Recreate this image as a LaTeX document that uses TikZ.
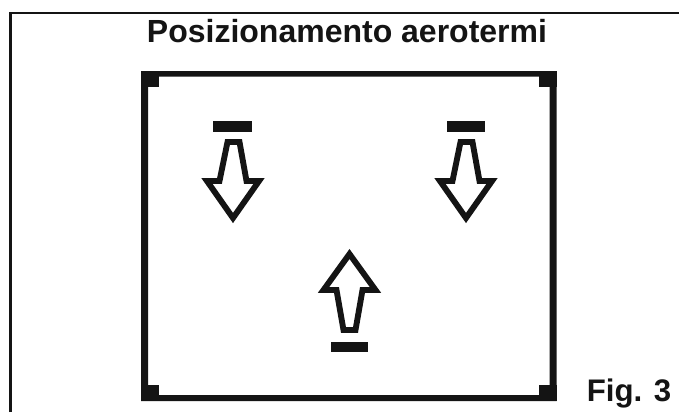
\documentclass[tikz,border=0pt]{standalone}
\usepackage{fontspec}
\setmainfont{Liberation Sans}
\definecolor{ink}{HTML}{141414}
\tikzset{
  px/.style={x=0.75pt,y=-0.75pt},
  arrowshape/.style={draw=ink,line width=4.4pt,fill=white,line join=miter,miter limit=6},
  blockshape/.style={fill=ink,draw=none},
  titletext/.style={font=\bfseries\fontsize{24pt}{28pt}\selectfont,text=ink,inner sep=0pt,anchor=base},
}
\begin{document}
\begin{tikzpicture}[px]
\useasboundingbox (0,0) rectangle (679,412);
\fill[white] (0,0) rectangle (679,412);
% outer frame
\draw[draw=ink,line width=2.2pt,line cap=butt] (10.2,412) -- (10.2,13) -- (679,13);
% title
\node[titletext] (title) at (347,42) {Posizionamento aerotermi};
\node[titletext,font=\bfseries\fontsize{23.4pt}{28pt}\selectfont] (fig) at (629,401) {Fig. 3};
% room
\fill[blockshape,even odd rule] (141,71) rectangle (556.5,401) (148,76.5) rectangle (549.5,395);
\fill[blockshape] (141,71) rectangle (159,87);
\fill[blockshape] (539,71) rectangle (556.5,87);
\fill[blockshape] (141,385) rectangle (159,401);
\fill[blockshape] (539,385) rectangle (556.5,401);
% left
\fill[blockshape] (213,121) rectangle (252,132);
\draw[arrowshape] (227.5,142) -- (239.5,142) -- (246.5,181) -- (259,181) -- (233,218) -- (207,181) -- (219.5,181) -- cycle;
% right
\fill[blockshape] (447,121) rectangle (485,132);
\draw[arrowshape] (460.5,142) -- (472.5,142) -- (479.5,181) -- (492,181) -- (466,218) -- (440,181) -- (452.5,181) -- cycle;
% bottom
\fill[blockshape] (331,342) rectangle (368,352);
\draw[arrowshape] (343.5,330) -- (355.5,330) -- (362.5,290) -- (375.5,290) -- (349.5,254) -- (323.5,290) -- (336.5,290) -- cycle;
\end{tikzpicture}
\end{document}
